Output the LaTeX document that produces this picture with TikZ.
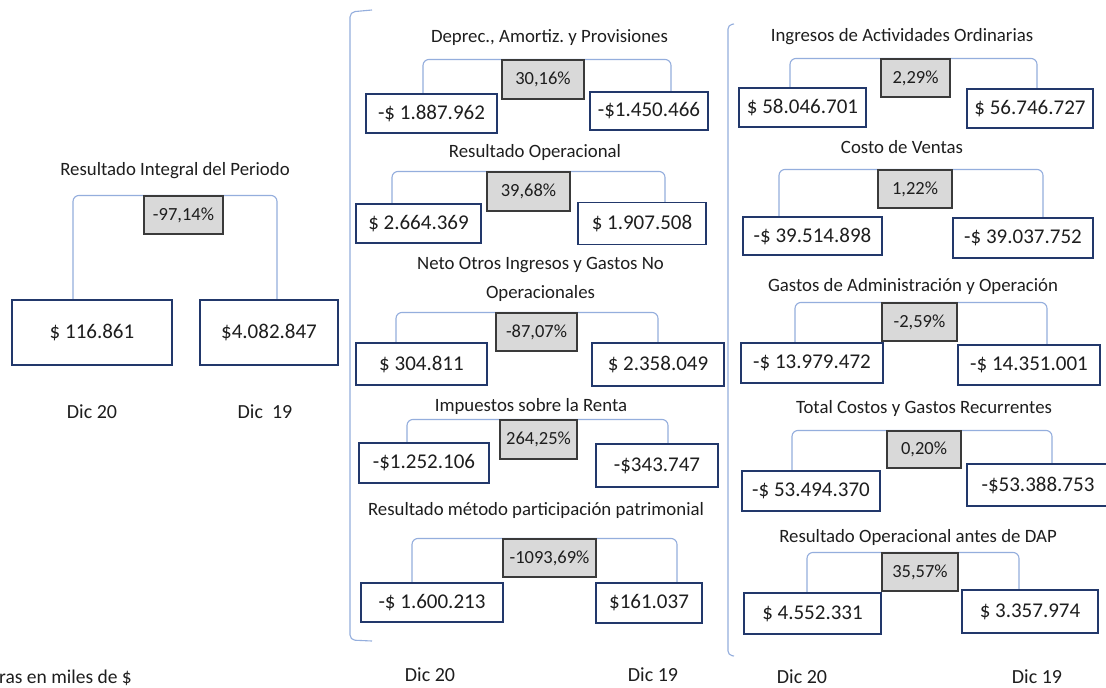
\documentclass[tikz,border=0pt]{standalone}
\usepackage{fontspec}
\setmainfont{Carlito}
\frenchspacing
\definecolor{txt}{HTML}{1E1E1E}
\definecolor{navy}{HTML}{22386B}
\definecolor{brkc}{HTML}{94AEDD}
\definecolor{pctf}{HTML}{D9D9D9}
\definecolor{pctb}{HTML}{3A3A3A}
\pgfdeclarelayer{bg}
\pgfsetlayers{bg,main}
\tikzset{
 ttl/.style={font=\fontsize{18.8}{29}\selectfont, text=txt, inner sep=0pt, align=center},
 val/.style={draw=navy, line width=1.3pt, fill=white, font=\fontsize{21}{24}\selectfont, text=txt, inner sep=0pt},
 pct/.style={draw=pctb, line width=1.1pt, fill=pctf, font=\fontsize{18.5}{22}\selectfont, text=txt, inner sep=0pt},
 brk/.style={draw=brkc, line width=1.1pt, rounded corners=6pt},
 dic/.style={font=\fontsize{20}{24}\selectfont, text=txt, inner sep=0pt},
}
\newcommand\grpbrk[5]{%
 \path ([xshift=#2pt]#1.north) coordinate (#1b) ([xshift=#4pt]#3.north) coordinate (#3b);
 \draw[brk] (#1b) -- (#1b |- #5.north) -- (#3b |- #5.north) -- (#3b);}
\begin{document}
\begin{tikzpicture}[x=1pt,y=-1pt]
\useasboundingbox (0,0) rectangle (1106,688);

% ---------- Left group ----------
\node[ttl] (tL) at (175,171) {Resultado Integral del Periodo};
\node[val, minimum width=160pt, minimum height=65pt] (LL) at (92,332.5) {\$ 116.861};
\node[val, minimum width=138pt, minimum height=65pt] (LR) at (269,332.5) {\$4.082.847};
\node[pct, minimum width=79pt, minimum height=38pt] (LP) at (183.5,215) {-97,14\%};
\node[dic] (dL1) at (92,412) {Dic 20};
\node[dic] (dL2) at (265,412) {Dic \ 19};

% G1
\node[ttl] (t1) at (549.5,38) {Deprec., Amortiz. y Provisiones};
\node[val, minimum width=131pt, minimum height=39pt] (L1) at (431.5,113.5) {-\$ 1.887.962};
\node[val, minimum width=118pt, minimum height=38pt] (R1) at (649,111) {-\$1.450.466};
\node[pct, minimum width=82pt, minimum height=39pt] (P1) at (543,79.5) {30,16\%};

% G2
\node[ttl] (t2) at (535,152) {Resultado Operacional};
\node[val, minimum width=125pt, minimum height=39pt] (L2) at (418.5,223.5) {\$ 2.664.369};
\node[val, minimum width=128pt, minimum height=42pt] (R2) at (642,223.5) {\$ 1.907.508};
\node[pct, minimum width=83pt, minimum height=39pt] (P2) at (528.5,191.5) {39,68\%};

% G3
\node[ttl] (t3) at (540.5,279) {Neto Otros Ingresos y Gastos No\\Operacionales};
\node[val, minimum width=131pt, minimum height=42pt] (L3) at (421.5,364) {\$ 304.811};
\node[val, minimum width=132pt, minimum height=43pt] (R3) at (658,364.5) {\$ 2.358.049};
\node[pct, minimum width=81pt, minimum height=38pt] (P3) at (536.5,332) {-87,07\%};

% G4
\node[ttl] (t4) at (531,406) {Impuestos sobre la Renta};
\node[val, minimum width=130pt, minimum height=40pt] (L4) at (424,463) {-\$1.252.106};
\node[val, minimum width=122pt, minimum height=43pt] (R4) at (657,465.5) {-\$343.747};
\node[pct, minimum width=77pt, minimum height=39pt] (P4) at (538.5,439.5) {264,25\%};

% G5
\node[ttl] (t5) at (536,510) {Resultado método participación patrimonial};
\node[val, minimum width=142pt, minimum height=39pt] (L5) at (432,602.5) {-\$ 1.600.213};
\node[val, minimum width=106pt, minimum height=40pt] (R5) at (649,603) {\$161.037};
\node[pct, minimum width=93pt, minimum height=38pt] (P5) at (549.5,558) {-1093,69\%};

\node[dic] (dM1) at (430,675) {Dic 20};
\node[dic] (dM2) at (653,675) {Dic 19};

% R1
\node[ttl] (u1) at (902,37) {Ingresos de Actividades Ordinarias};
\node[val, minimum width=127pt, minimum height=39pt] (A1) at (802.5,107.5) {\$ 58.046.701};
\node[val, minimum width=126pt, minimum height=39pt] (B1) at (1030,108.5) {\$ 56.746.727};
\node[pct, minimum width=69pt, minimum height=38pt] (Q1) at (915.5,78) {2,29\%};

% R2
\node[ttl] (u2) at (902,147) {Costo de Ventas};
\node[val, minimum width=139pt, minimum height=38pt] (A2) at (812.5,236) {-\$ 39.514.898};
\node[val, minimum width=140pt, minimum height=40pt] (B2) at (1023,238) {-\$ 39.037.752};
\node[pct, minimum width=74pt, minimum height=38pt] (Q2) at (915,189) {1,22\%};

% R3
\node[ttl] (u3) at (913,286) {Gastos de Administración y Operación};
\node[val, minimum width=142pt, minimum height=40pt] (A3) at (812,363) {-\$ 13.979.472};
\node[val, minimum width=142pt, minimum height=40pt] (B3) at (1029,365) {-\$ 14.351.001};
\node[pct, minimum width=75pt, minimum height=38pt] (Q3) at (919.5,322) {-2,59\%};

% R4
\node[ttl] (u4) at (924,408) {Total Costos y Gastos Recurrentes};
\node[val, minimum width=138pt, minimum height=40pt] (A4) at (811,491) {-\$ 53.494.370};
\node[val, minimum width=142pt, minimum height=42pt] (B4) at (1038,485) {-\$53.388.753};
\node[pct, minimum width=74pt, minimum height=37pt] (Q4) at (924,449.5) {0,20\%};

% R5
\node[ttl] (u5) at (918,537) {Resultado Operacional antes de DAP};
\node[val, minimum width=137pt, minimum height=41pt] (A5) at (812.5,613.5) {\$ 4.552.331};
\node[val, minimum width=136pt, minimum height=43pt] (B5) at (1030,611.5) {\$ 3.357.974};
\node[pct, minimum width=76pt, minimum height=38pt] (Q5) at (920,572) {35,57\%};

\node[dic] (dR1) at (802,677) {Dic 20};
\node[dic] (dR2) at (1037,677) {Dic 19};

% footnote
\node[font=\fontsize{19.5}{22}\selectfont, text=txt, inner sep=0pt, anchor=west] (fn) at (-1,678) {ras en miles de \$};

% ---------- brackets (background) ----------
\begin{pgfonlayer}{bg}
\fill[white] (0,0) rectangle (1106,688);
\draw[brk, rounded corners=5pt] (372,10) -- (350,12) -- (350,640) -- (372,641);
\draw[brk, rounded corners=4pt] (734,24) -- (728,25) -- (728,655) -- (734,656);
\grpbrk{LL}{-19}{LR}{8}{LP}
\grpbrk{L1}{-8.5}{R1}{22}{P1}
\grpbrk{L2}{-26.5}{R2}{23}{P2}
\grpbrk{L3}{-25.5}{R3}{0}{P3}
\grpbrk{L4}{-17}{R4}{11}{P4}
\grpbrk{L5}{-20}{R5}{28}{P5}
\grpbrk{A1}{-12.5}{B1}{7}{Q1}
\grpbrk{A2}{-33.5}{B2}{20}{Q2}
\grpbrk{A3}{-17}{B3}{18}{Q3}
\grpbrk{A4}{-19}{B4}{14}{Q4}
\grpbrk{A5}{-5.5}{B5}{-11}{Q5}
\end{pgfonlayer}
\end{tikzpicture}
\end{document}
